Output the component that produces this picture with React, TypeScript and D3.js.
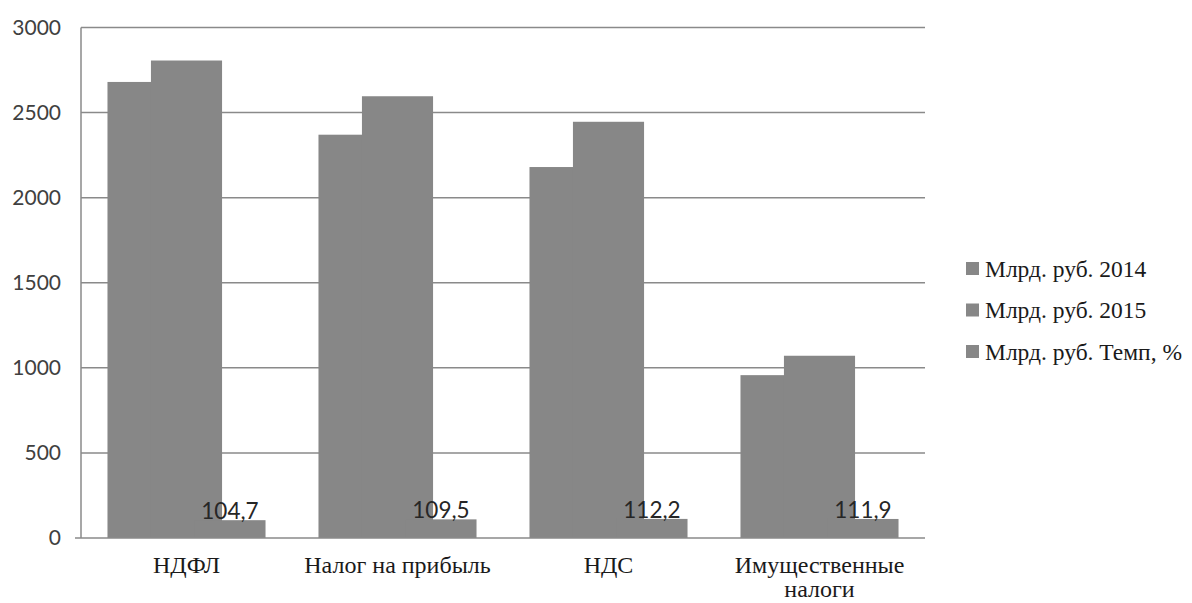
import { useRef, useEffect } from 'react'
import * as d3 from 'd3';

const categories = ["НДФЛ", "Налог на прибыль", "НДС", "Имущественные налоги"];
const seriesNames = ["Млрд. руб. 2014", "Млрд. руб. 2015", "Млрд. руб. Темп, %"];
const values2014 = [2680, 2370, 2180, 957];
const values2015 = [2806, 2596, 2446, 1071];
const valuesTemp = [104.7, 109.5, 112.2, 111.9];
const tempLabels = ["104,7", "109,5", "112,2", "111,9"];
const yTicks = [0, 500, 1000, 1500, 2000, 2500, 3000];

const catLines: Record<string, string[]> = {
    "Имущественные налоги": ["Имущественные", "налоги"]
};

function App() {
    const ref = useRef(null);

    const width = 1192;
    const height = 603;

    useEffect(() => {
        const marginLeft = 81;
        const marginRight = 267;
        const marginTop = 27.5;
        const marginBottom = 65;

        const svg = d3.select(ref.current);
        svg.selectAll("*").remove();

        const barColor = "#878787";
        const gridColor = "#8a8a8a";

        const x = d3.scaleBand()
                    .domain(categories)
                    .range([marginLeft, width - marginRight])
                    .padding(0);

        const bw = x.bandwidth();
        const barW = bw * 0.337;

        // series offsets (bars overlap like in Excel)
        const xs = d3.scalePoint()
                     .domain(seriesNames)
                     .range([-bw * 0.206, bw * 0.206]);

        const y = d3.scaleLinear()
                    .domain([0, 3000])
                    .range([height - marginBottom, marginTop]);

        // gridlines
        svg.append("g")
           .selectAll("line")
           .data(yTicks.filter(d => d > 0))
           .join("line")
           .attr("x1", marginLeft)
           .attr("x2", width - marginRight)
           .attr("y1", d => y(d))
           .attr("y2", d => y(d))
           .attr("stroke", gridColor)
           .attr("stroke-width", 1.5);

        const allSeries = [values2014, values2015, valuesTemp];

        allSeries.forEach((vals, si) => {
            svg.append("g")
               .attr("fill", barColor)
               .selectAll("rect")
               .data(vals)
               .join("rect")
               .attr("x", (d, i) => x(categories[i]) + bw / 2 + xs(seriesNames[si]) - barW / 2)
               .attr("width", barW)
               .attr("y", d => y(d))
               .attr("height", d => y(0) - y(d));
        });

        // data labels for the rate series
        svg.append("g")
           .selectAll("text")
           .data(valuesTemp)
           .join("text")
           .attr("x", (d, i) => x(categories[i]) + bw / 2 + xs(seriesNames[2]))
           .attr("y", d => y(d) - 1)
           .attr("text-anchor", "middle")
           .attr("font-family", "Lato, 'Open Sans', sans-serif")
           .attr("font-size", 22.5)
           .attr("fill", "#262626")
           .text((d, i) => tempLabels[i]);

        // axes lines
        svg.append("line")
           .attr("x1", marginLeft)
           .attr("x2", marginLeft)
           .attr("y1", y(3000))
           .attr("y2", y(0))
           .attr("stroke", gridColor)
           .attr("stroke-width", 1.5);

        svg.append("line")
           .attr("x1", marginLeft - 6)
           .attr("x2", width - marginRight)
           .attr("y1", y(0))
           .attr("y2", y(0))
           .attr("stroke", gridColor)
           .attr("stroke-width", 1.5);

        // y tick labels
        svg.append("g")
           .selectAll("text")
           .data(yTicks)
           .join("text")
           .attr("x", marginLeft - 20)
           .attr("y", d => y(d))
           .attr("dy", "0.35em")
           .attr("text-anchor", "end")
           .attr("font-family", "Lato, 'Open Sans', sans-serif")
           .attr("font-size", 21)
           .attr("fill", "#404040")
           .text(d => d);

        // category labels
        const cat = svg.append("g")
                       .selectAll("text")
                       .data(categories)
                       .join("text")
                       .attr("x", d => x(d) + bw / 2)
                       .attr("y", y(0) + 35)
                       .attr("text-anchor", "middle")
                       .attr("font-family", "'Liberation Serif', 'Times New Roman', serif")
                       .attr("font-size", 24)
                       .attr("fill", "#1a1a1a");

        cat.selectAll("tspan")
           .data(d => catLines[d] || [d])
           .join("tspan")
           .attr("x", function () {
               return d3.select(this.parentNode).attr("x");
           })
           .attr("dy", (d, i) => i === 0 ? 0 : 24)
           .text(d => d);

        // legend
        const legend = svg.append("g")
                          .selectAll("g")
                          .data(seriesNames)
                          .join("g")
                          .attr("transform", (d, i) => `translate(966,${269 + i * 41.5})`);

        legend.append("rect")
              .attr("x", 0)
              .attr("y", -7)
              .attr("width", 13)
              .attr("height", 13)
              .attr("fill", barColor);

        legend.append("text")
              .attr("x", 19)
              .attr("y", 0)
              .attr("dy", "0.33em")
              .attr("font-family", "'Liberation Serif', 'Times New Roman', serif")
              .attr("font-size", 23.5)
              .attr("fill", "#1a1a1a")
              .text(d => d);
    }, []);

    return (
        <svg ref={ref}
             width={width}
             height={height}
             style={{ position: "absolute", left: 0, top: 0, background: "#fff" }} />
    );
}

export default App;
